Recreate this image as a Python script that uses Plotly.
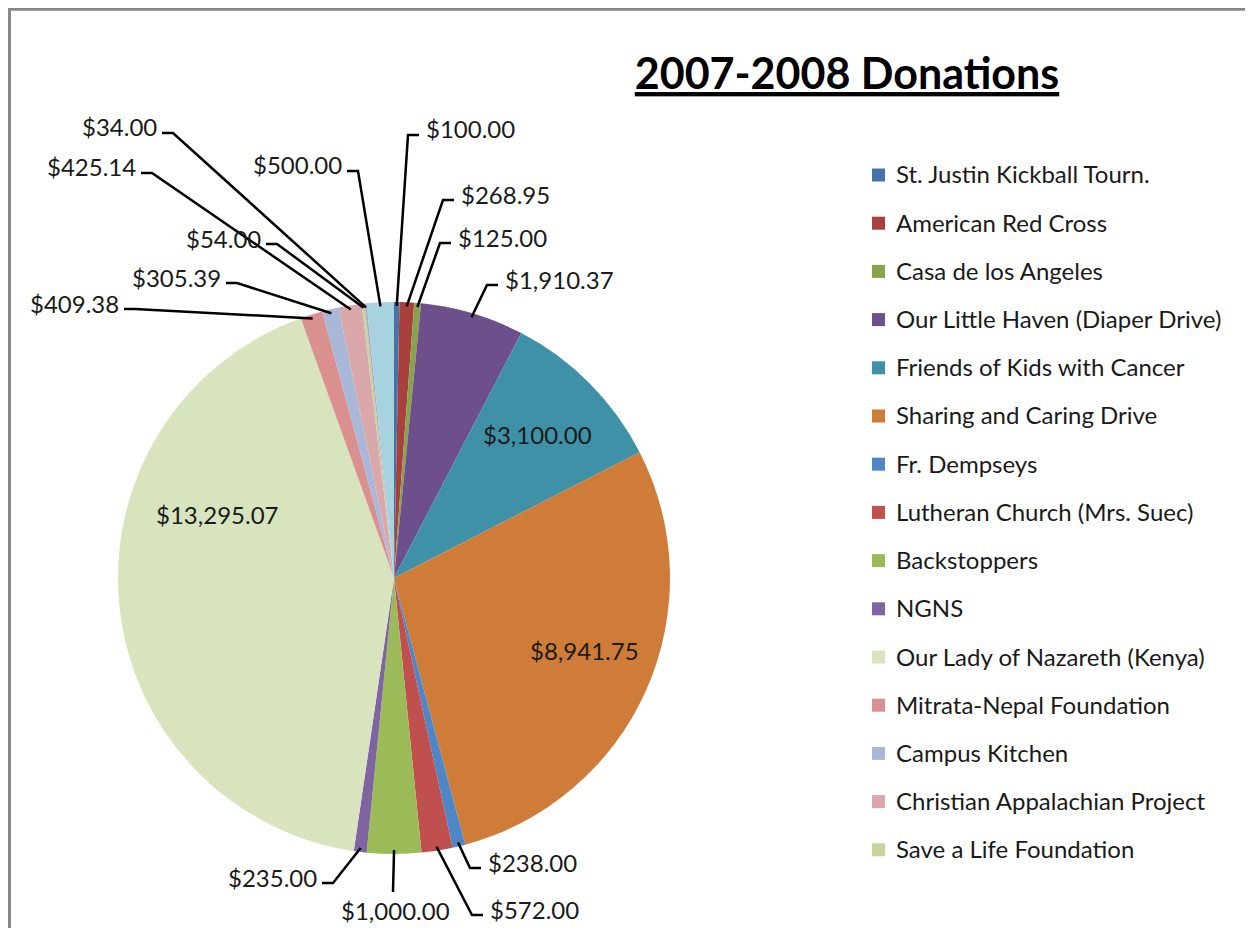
import math
import plotly.graph_objects as go

# ---------------- data ----------------
categories = [
    "St. Justin Kickball Tourn.", "American Red Cross", "Casa de los Angeles",
    "Our Little Haven (Diaper Drive)", "Friends of Kids with Cancer",
    "Sharing and Caring Drive", "Fr. Dempseys", "Lutheran Church (Mrs. Suec)",
    "Backstoppers", "NGNS", "Our Lady of Nazareth (Kenya)",
    "Mitrata-Nepal Foundation", "Campus Kitchen", "Christian Appalachian Project",
    "Save a Life Foundation", "Donation 16", "Donation 17",
]
donations = [100.00, 268.95, 125.00, 1910.37, 3100.00, 8941.75, 238.00, 572.00,
             1000.00, 235.00, 13295.07, 409.38, 305.39, 425.14, 54.00, 34.00, 500.00]
legend_count = 15  # the original legend is cut off after 15 entries
title_text = "2007-2008 Donations"

# ---------------- styles ----------------
colors = ["#4672A8", "#A8403D", "#87A44C", "#6C4F8B", "#3F91A8", "#CF7C39",
          "#4F86C6", "#C0504D", "#9BBB59", "#8064A2", "#D7E4BD", "#D9908E",
          "#A9B8D8", "#DAA8AA", "#C3D69B", "#B3A2C7", "#A7D2DF"]
FONT = "Lato"
TXT = "#1A1A1A"
FS = 24

# page is rendered with an 8px body margin
OFF = 8
W, H = 1253 - OFF, 928 - OFF
CX, CY, R = 394, 578, 276


def px(x):
    return (x - OFF) / W


def py(y):
    return 1 - (y - OFF) / H


# outside labels: index -> (elbow x, elbow y, side)
label_layout = {
    0: (408, 135, "r"), 1: (443, 200, "r"), 2: (440, 243, "r"), 3: (487, 285, "r"),
    6: (470, 868, "r"), 7: (472, 915, "r"), 8: (393, 892, "b"), 9: (333, 883, "l"),
    11: (135, 309, "l"), 12: (237, 283, "l"), 13: (152, 173, "l"), 14: (277, 244, "l"),
    15: (173, 133, "l"), 16: (358, 171, "l"),
}
# inside labels: index -> (radius fraction, angle nudge in degrees)
inside_layout = {4: (0.735, 0.0), 5: (0.74, -3.2), 10: (0.68, 25.4)}
TICK = 11

total = sum(donations)
mids = []
cum = 0.0
for v in donations:
    mids.append((cum + v / 2) / total * 2 * math.pi)
    cum += v

fig = go.Figure()
fig.add_trace(go.Pie(
    labels=categories, values=donations, sort=False, direction="clockwise",
    rotation=0, marker=dict(colors=colors, line=dict(width=0)),
    textinfo="none",
    domain=dict(x=[px(CX - R), px(CX + R)], y=[py(CY + R), py(CY - R)]),
    showlegend=False, hovertemplate="%{label}<br>%{value:$,.2f}<extra></extra>",
))

shapes = []
annotations = []

# border of chart area
shapes.append(dict(type="rect", xref="paper", yref="paper",
                   x0=px(9.5), x1=px(1290), y0=py(960), y1=py(9.3),
                   line=dict(color="#878787", width=3), layer="below"))


def money(v):
    return "${:,.2f}".format(v)


# inside labels
for i, (rf, nudge) in inside_layout.items():
    th = mids[i] + math.radians(nudge)
    x = CX + rf * R * math.sin(th)
    y = CY - rf * R * math.cos(th)
    annotations.append(dict(x=px(x), y=py(y), xref="paper", yref="paper",
                            text=money(donations[i]), showarrow=False,
                            xanchor="center", yanchor="middle",
                            font=dict(family=FONT, size=FS, color=TXT)))

# outside labels with leader lines
for i, (ex, ey, side) in label_layout.items():
    th = mids[i]
    sx = CX + (R - 4) * math.sin(th)
    sy = CY - (R - 4) * math.cos(th)
    label = money(donations[i])
    if side == "b":
        path = f"M {px(sx)},{py(sy)} L {px(ex)},{py(ey)}"
        annotations.append(dict(x=px(ex + 2), y=py(ey + 2), xref="paper", yref="paper",
                                text=label, showarrow=False, xanchor="center", yanchor="top",
                                font=dict(family=FONT, size=FS, color=TXT)))
    else:
        tx = ex + TICK if side == "r" else ex - TICK
        path = f"M {px(sx)},{py(sy)} L {px(ex)},{py(ey)} L {px(tx)},{py(ey)}"
        if side == "r":
            annotations.append(dict(x=px(tx + 5), y=py(ey - 6), xref="paper", yref="paper",
                                    text=label, showarrow=False, xanchor="left", yanchor="middle",
                                    font=dict(family=FONT, size=FS, color=TXT)))
        else:
            annotations.append(dict(x=px(tx - 3), y=py(ey - 6), xref="paper", yref="paper",
                                    text=label, showarrow=False, xanchor="right", yanchor="middle",
                                    font=dict(family=FONT, size=FS, color=TXT)))
    shapes.append(dict(type="path", xref="paper", yref="paper", path=path,
                       line=dict(color="#000000", width=2.5)))

# legend (custom, so it can stop after 15 entries like the original)
LEG_X, LEG_Y0, LEG_DY, SQ = 872, 175, 48.2, 13
for i in range(legend_count):
    yc = LEG_Y0 + i * LEG_DY
    shapes.append(dict(type="rect", xref="paper", yref="paper",
                       x0=px(LEG_X), x1=px(LEG_X + SQ), y0=py(yc + SQ / 2), y1=py(yc - SQ / 2),
                       fillcolor=colors[i], line=dict(width=0)))
    annotations.append(dict(x=px(LEG_X + 22), y=py(yc - 1), xref="paper", yref="paper",
                            text=categories[i], showarrow=False, xanchor="left", yanchor="middle",
                            font=dict(family=FONT, size=FS, color=TXT)))

fig.update_layout(
    width=W, height=H, margin=dict(l=0, r=0, t=0, b=0),
    paper_bgcolor="white", plot_bgcolor="white",
    title=dict(text=f"<b>{title_text}</b>", x=px(847), y=py(74), xanchor="center",
               yanchor="middle", xref="paper", yref="paper",
               font=dict(family=FONT, size=43, color="#000000", lineposition="under")),
    shapes=shapes, annotations=annotations,
)

fig.write_html("out.html")
